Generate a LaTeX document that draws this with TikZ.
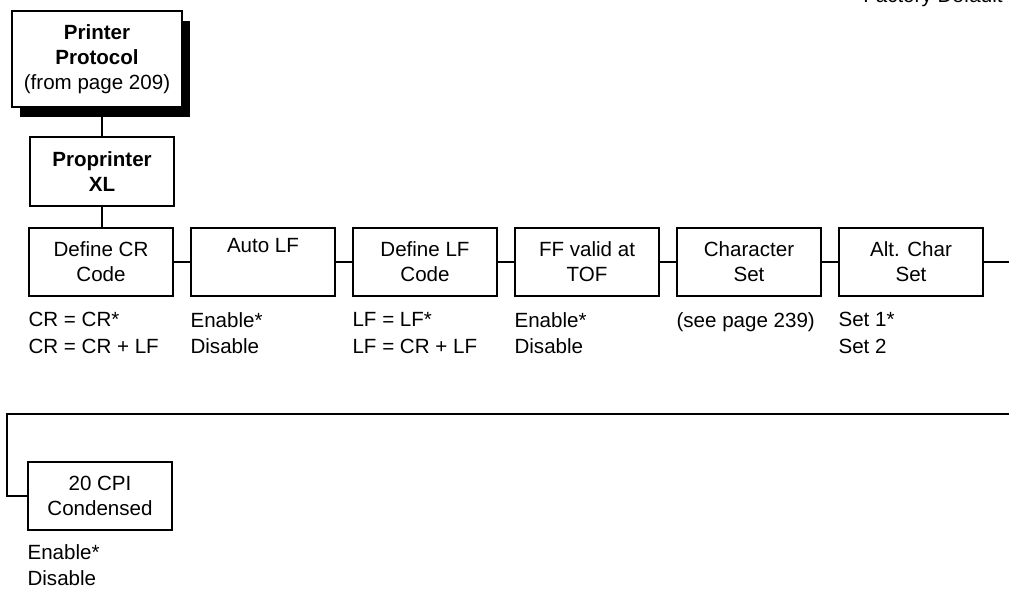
\documentclass[tikz,border=0pt]{standalone}
\usepackage{fontspec}
\setmainfont{Liberation Sans}
\usetikzlibrary{calc,shadows}

\begin{document}
\begin{tikzpicture}[
  font=\fontsize{11.7}{14.2}\selectfont,
  menu/.style={draw,line width=0.9pt,minimum width=2.88cm,minimum height=1.36cm,
    align=center,inner sep=2pt,fill=white},
  opts/.style={anchor=north west,align=left,inner sep=0pt,
    font=\fontsize{11.7}{15.3}\selectfont},
  link/.style={line width=0.9pt}
]
  \useasboundingbox (0,0) rectangle (20.18,11.8);

  \node[anchor=base east,inner sep=0pt] (FD) at (20.06,11.74) {Factory Default};

  \node[menu,font=\fontsize{11.7}{14.2}\selectfont\bfseries,
    minimum width=3.4cm,minimum height=1.92cm,
    drop shadow={shadow xshift=0.16cm,shadow yshift=-0.2cm,fill=black,opacity=1}]
    (PP) at (1.94,10.62) {Printer\\Protocol\\{\mdseries (from page 209)}};
  \node[menu,font=\fontsize{11.7}{14.2}\selectfont\bfseries,minimum height=1.38cm]
    (PX) at (2.04,8.37) {Proprinter\\XL};

  \node[menu] (CR) at (2.02,6.56) {Define CR\\Code};
  \node[menu] (ALF) at (5.26,6.56) {Auto LF\\\strut};
  \node[menu] (LF) at (8.50,6.56) {Define LF\\Code};
  \node[menu] (FF) at (11.74,6.56) {FF valid at\\TOF};
  \node[menu] (CS) at (14.98,6.56) {Character\\Set};
  \node[menu] (ACS) at (18.22,6.56) {Alt. Char\\Set};
  \node[menu] (CPI) at (2.00,1.88) {20 CPI\\Condensed};

  \node[opts] (CRopt) at ($(CR.south west)+(0,-0.3)$) {CR = CR*\\CR = CR + LF};
  \node[opts] (ALFopt) at ($(ALF.south west)+(0,-0.3)$) {Enable*\\Disable};
  \node[opts] (LFopt) at ($(LF.south west)+(0,-0.3)$) {LF = LF*\\LF = CR + LF};
  \node[opts] (FFopt) at ($(FF.south west)+(0,-0.3)$) {Enable*\\Disable};
  \node[opts] (CSopt) at ($(CS.south west)+(0,-0.3)$) {(see page 239)};
  \node[opts] (ACSopt) at ($(ACS.south west)+(0,-0.3)$) {Set 1*\\Set 2};
  \node[opts] (CPIopt) at ($(CPI.south west)+(0,-0.26)$) {Enable*\\Disable};

  \draw[link] (PX.north) -- (PX.north |- PP.south);
  \draw[link] (PX.south) -- (PX.south |- CR.north);
  \draw[link] (CR) -- (ALF);
  \draw[link] (ALF) -- (LF);
  \draw[link] (LF) -- (FF);
  \draw[link] (FF) -- (CS);
  \draw[link] (CS) -- (ACS);

  \coordinate (OUT) at (20.18,6.56);
  \draw[link] (ACS) -- (OUT);
  \coordinate (RET) at (20.18,3.52);
  \coordinate (TURN) at (0.14,3.52);
  \draw[link] (RET) -- (TURN) |- (CPI.west);
\end{tikzpicture}
\end{document}
